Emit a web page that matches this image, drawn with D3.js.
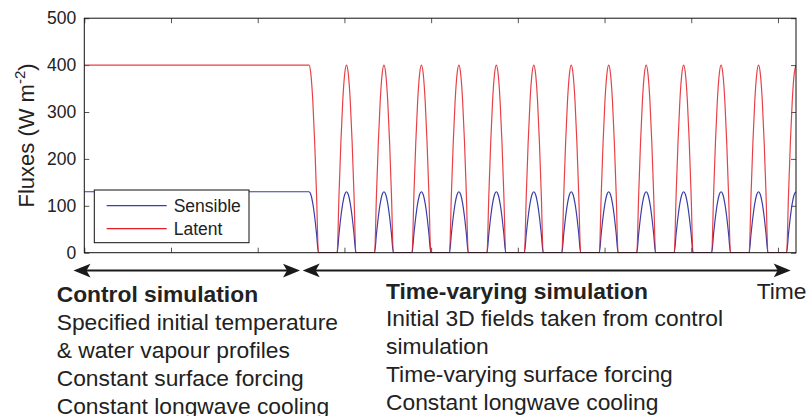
<!DOCTYPE html>
<html>
<head>
<meta charset="utf-8">
<script src="https://cdn.jsdelivr.net/npm/d3@7"></script>
<style>
  html, body { margin: 0; padding: 0; background: #fff; }
  svg { display: block; font-family: "Liberation Sans", Arial, Helvetica, sans-serif; }
</style>
</head>
<body>
<svg id="chart" width="809" height="416"></svg>
<script>
// ---------------- data ----------------
const DAY = 86400;                                   // seconds per day
const xDomain = [0, 19 * DAY];                       // model time (s)
const yDomain = [0, 500];                            // flux (W m-2)
const xTickValues = [0, 200000, 400000, 600000, 800000, 1000000, 1200000, 1400000, 1600000];
const yTickValues = [0, 100, 200, 300, 400, 500];
const yTickLabels = ["0", "100", "200", "300", "400", "500"];

const seriesNames = ["Sensible", "Latent"];
const sensibleLevel = 130;                           // control / peak sensible flux
const latentLevel = 400;                             // control / peak latent flux
const controlEndDay = 6;                             // switch to time-varying forcing
const lastDay = 19;
const peakDays = [6, 7, 8, 9, 10, 11, 12, 13, 14, 15, 16, 17, 18, 19];
// shape of one daytime hump (fraction of peak vs. offset in days)
const humpOffsets = [-0.25, -0.2, -0.15, -0.1, -0.05, 0, 0.05, 0.1, 0.15, 0.2, 0.25];
const humpShape   = [0, 0.31, 0.59, 0.81, 0.95, 1, 0.95, 0.81, 0.59, 0.31, 0];

const leftTitle = "Control simulation";
const leftLines = ["Specified initial temperature", "& water vapour profiles",
                   "Constant surface forcing", "Constant longwave cooling"];
const rightTitle = "Time-varying simulation";
const rightLines = ["Initial 3D fields taken from control", "simulation",
                    "Time-varying surface forcing", "Constant longwave cooling"];

// ---------------- layout ----------------
const plot = { left: 84.3, right: 796, top: 18.2, bottom: 252.7 };
const colors = { Sensible: "#3a3ea6", Latent: "#e41e26" };

const svg = d3.select("#chart");
const x = d3.scaleLinear().domain(xDomain).range([plot.left, plot.right]);
const y = d3.scaleLinear().domain(yDomain).range([plot.bottom, plot.top]);

function buildSeries(level) {
  const pts = [[0, level]];
  peakDays.forEach(d => {
    humpOffsets.forEach((o, i) => {
      const t = d + o;
      if (t >= controlEndDay && t <= lastDay) pts.push([t * DAY, level * humpShape[i]]);
    });
  });
  return pts;
}
const seriesData = {
  Sensible: buildSeries(sensibleLevel),
  Latent: buildSeries(latentLevel)
};

// clip
svg.append("clipPath").attr("id", "plotclip").append("rect")
  .attr("x", plot.left).attr("y", plot.top - 2)
  .attr("width", plot.right - plot.left).attr("height", plot.bottom - plot.top + 2);

// axes (ticks inward on all four sides)
const tickCol = "#555";
function styleAxis(g) {
  g.select(".domain").remove();
  g.selectAll(".tick line").attr("stroke", tickCol).attr("stroke-width", 1);
}
svg.append("g").attr("transform", `translate(${plot.left},0)`)
  .call(d3.axisLeft(y).tickValues(yTickValues).tickSize(-5).tickPadding(8)
        .tickFormat((d, i) => yTickLabels[i]))
  .call(styleAxis)
  .call(g => g.selectAll(".tick text").attr("fill", "#222")
        .style("font-size", "17.5px").style("font-family", "Liberation Sans, Arial, sans-serif"));
svg.append("g").attr("transform", `translate(${plot.right},0)`)
  .call(d3.axisRight(y).tickValues(yTickValues).tickSize(-5).tickFormat(""))
  .call(styleAxis);
svg.append("g").attr("transform", `translate(0,${plot.bottom})`)
  .call(d3.axisBottom(x).tickValues(xTickValues).tickSize(-5).tickFormat(""))
  .call(styleAxis);
svg.append("g").attr("transform", `translate(0,${plot.top})`)
  .call(d3.axisTop(x).tickValues(xTickValues).tickSize(-5).tickFormat(""))
  .call(styleAxis);

// series
const line = d3.line().x(d => x(d[0])).y(d => y(d[1])).curve(d3.curveMonotoneX);
const gSeries = svg.append("g").attr("clip-path", "url(#plotclip)");
seriesNames.forEach(name => {
  gSeries.append("path").datum(seriesData[name])
    .attr("fill", "none").attr("stroke", colors[name])
    .attr("stroke-width", 1.2)
    .attr("stroke-opacity", name === "Latent" ? 0.85 : 1)
    .attr("d", line);
});

// box
svg.append("rect").attr("x", plot.left).attr("y", plot.top)
  .attr("width", plot.right - plot.left).attr("height", plot.bottom - plot.top)
  .attr("fill", "none").attr("stroke", "#111").attr("stroke-width", 1);

// y label
svg.append("text")
  .attr("transform", `translate(33.5,${(plot.top + plot.bottom) / 2}) rotate(-90)`)
  .attr("text-anchor", "middle").attr("fill", "#222").style("font-size", "22px")
  .call(t => {
    t.append("tspan").text("Fluxes (W m");
    t.append("tspan").attr("dy", -9).style("font-size", "15px").text("-2");
    t.append("tspan").attr("dy", 9).text(")");
  });

// legend
const lg = svg.append("g");
lg.append("rect").attr("x", 94.3).attr("y", 190).attr("width", 154.7).attr("height", 52.7)
  .attr("fill", "#fff").attr("stroke", "#111").attr("stroke-width", 1);
seriesNames.forEach((name, i) => {
  const ly = 205.7 + i * 23;
  lg.append("line").attr("x1", 106.7).attr("x2", 166.7).attr("y1", ly).attr("y2", ly)
    .attr("stroke", colors[name]).attr("stroke-width", 1.2);
  lg.append("text").attr("x", 173.7).attr("y", ly + 6.5).attr("fill", "#222")
    .style("font-size", "17.5px").text(name);
});

// arrows
function head(tipX, tipY, dir) {
  const L = 17, W = 6.8, ind = 4;
  const bx = tipX - dir * L;
  return `M${tipX},${tipY} L${bx},${tipY - W} L${bx + dir * ind},${tipY} L${bx},${tipY + W} Z`;
}
const ag = svg.append("g").attr("fill", "#1a1a1a").attr("stroke", "none");
function arrow(x1, x2, yy, leftHead, rightHead) {
  ag.append("line").attr("x1", x1 + (leftHead ? 10 : 0)).attr("x2", x2 - (rightHead ? 10 : 0))
    .attr("y1", yy).attr("y2", yy).attr("stroke", "#1a1a1a").attr("stroke-width", 2);
  if (leftHead) ag.append("path").attr("d", head(x1, yy, -1));
  if (rightHead) ag.append("path").attr("d", head(x2, yy, 1));
}
arrow(73.5, 300, 270.6, true, true);
arrow(302.7, 790.7, 270.4, true, true);

// annotation text
const tg = svg.append("g").attr("fill", "#222").style("font-size", "22.8px");
tg.append("text").attr("x", 56.7).attr("y", 302).style("font-weight", "bold").text(leftTitle);
leftLines.forEach((s, i) => tg.append("text").attr("x", 56.7).attr("y", 330.3 + i * 28).text(s));
tg.append("text").attr("x", 386).attr("y", 299.3).style("font-weight", "bold").text(rightTitle);
rightLines.forEach((s, i) => tg.append("text").attr("x", 386).attr("y", 326 + i * 28).text(s));
tg.append("text").attr("x", 756.7).attr("y", 299.3).text("Time");
</script>
</body>
</html>
